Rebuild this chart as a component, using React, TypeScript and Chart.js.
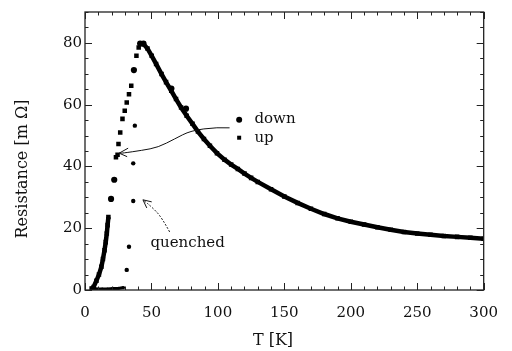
import React, { useEffect, useRef } from 'react';
import { Chart, registerables } from 'chart.js';

Chart.register(...registerables);

// ---- data ----
const upT = [5.0, 6.5, 8.6, 10.5, 12.3, 13.5, 14.7, 15.6, 16.4, 17.0, 17.6,
  23.3, 24.5, 25.2, 26.5, 28.2, 29.9, 31.4, 33.1, 34.8, 38.7, 40.4, 42.6,
  44.1, 47.0, 50.2, 53.5, 57.6, 61.0, 64.9, 68.5, 72.3, 76.5, 80.9, 85.0, 89.5, 94.0, 99.3,
  105, 110, 115, 120, 125, 130, 140, 150, 160, 170, 180, 190, 200, 210, 220, 230, 240,
  250, 260, 270, 280, 290, 300];
const upR = [0.5, 1.0, 3.0, 5.0, 7.5, 10.0, 12.9, 15.5, 18.3, 21.0, 23.6,
  43.0, 43.8, 47.3, 51.0, 55.4, 58.0, 60.7, 63.4, 66.1, 75.8, 78.5, 79.8,
  79.6, 78.2, 75.8, 73.2, 69.9, 67.3, 64.5, 61.8, 59.1, 56.4, 53.8, 51.3, 48.9, 46.7, 44.3,
  42.2, 40.6, 39.2, 37.7, 36.3, 35.0, 32.6, 30.3, 28.2, 26.3, 24.6, 23.2, 22.1, 21.2, 20.3, 19.5, 18.8,
  18.3, 17.9, 17.5, 17.2, 16.9, 16.6];

const downT = [5, 9, 13, 17, 21, 25, 29, 19.6, 22.0, 36.8, 41.5, 44.0, 65.0, 76.0];
const downR = [0.5, 0.3, 0.3, 0.3, 0.5, 0.5, 0.8, 29.5, 35.7, 71.2, 79.8, 79.8, 65.2, 58.7];

const quenchT = [31.4, 33.1, 36.3, 36.3, 37.5];
const quenchR = [6.5, 14.0, 28.8, 41.0, 53.2];

const seriesNames = ['down', 'up', 'quenched'];
const X_TITLE = 'T [K]';
const Y_TITLE = 'Resistance [m Ω]';

// annotation anchors (data units)
const legendDownAt = [116, 55.1];
const legendUpAt = [116, 49.3];
const legendTextT = 127.5;
const arrow1Path = [[108.8, 52.5], [99.3, 52.7], [79.6, 51.6], [67.4, 48.9], [55.1, 46.2], [42.9, 45.2], [28.2, 44.3], [25.7, 44.3]];
const arrow2Path = [[63.7, 18.8], [57.6, 23.6], [50.2, 26.9], [43.6, 29.2]];
const quenchLabelAt = [77.2, 15.2];

const FONT = "'DejaVu Serif', serif";
const INK = '#111';

function pts(xs: number[], ys: number[]) {
  return xs.map((x, i) => ({ x, y: ys[i] }));
}

const overlay = {
  id: 'overlay',
  afterDatasetsDraw(chart: any) {
    const { ctx, chartArea: a } = chart;
    const xs = chart.scales.x;
    const ys = chart.scales.y;
    const X = (v: number) => xs.getPixelForValue(v);
    const Y = (v: number) => ys.getPixelForValue(v);
    ctx.save();
    // frame
    ctx.strokeStyle = '#222';
    ctx.lineWidth = 1.3;
    ctx.strokeRect(a.left, a.top, a.right - a.left, a.bottom - a.top);
    // inward ticks on all four sides
    ctx.lineWidth = 1;
    ctx.beginPath();
    for (let v = 0; v <= 300; v += 10) {
      const px = Math.round(X(v)) + 0.5;
      const len = v % 50 === 0 ? 7 : 3.5;
      ctx.moveTo(px, a.bottom); ctx.lineTo(px, a.bottom - len);
      ctx.moveTo(px, a.top); ctx.lineTo(px, a.top + len);
    }
    for (let v = 0; v <= 90; v += 5) {
      const py = Math.round(Y(v)) + 0.5;
      const len = v % 20 === 0 ? 7 : 3.5;
      ctx.moveTo(a.left, py); ctx.lineTo(a.left + len, py);
      ctx.moveTo(a.right, py); ctx.lineTo(a.right - len, py);
    }
    ctx.stroke();

    // legend
    ctx.fillStyle = '#000';
    ctx.beginPath();
    ctx.arc(X(legendDownAt[0]), Y(legendDownAt[1]), 3, 0, Math.PI * 2);
    ctx.fill();
    ctx.fillRect(X(legendUpAt[0]) - 2, Y(legendUpAt[1]) - 2, 4, 4);
    ctx.fillStyle = INK;
    ctx.font = `15px ${FONT}`;
    ctx.textAlign = 'left';
    ctx.textBaseline = 'alphabetic';
    ctx.fillText(seriesNames[0], X(legendTextT), Y(legendDownAt[1]) + 3);
    ctx.fillText(seriesNames[1], X(legendTextT), Y(legendUpAt[1]) + 4.5);

    // arrow 1 (legend -> curves)
    ctx.strokeStyle = '#111';
    ctx.lineWidth = 1;
    ctx.beginPath();
    const p1 = arrow1Path.map(([t, r]) => [X(t), Y(r)]);
    ctx.moveTo(p1[0][0], p1[0][1]);
    for (let i = 1; i < p1.length - 1; i++) {
      const mx = (p1[i][0] + p1[i + 1][0]) / 2;
      const my = (p1[i][1] + p1[i + 1][1]) / 2;
      ctx.quadraticCurveTo(p1[i][0], p1[i][1], mx, my);
    }
    const tip1 = p1[p1.length - 1];
    ctx.lineTo(tip1[0], tip1[1]);
    ctx.moveTo(tip1[0] + 9, tip1[1] - 5);
    ctx.lineTo(tip1[0], tip1[1]);
    ctx.lineTo(tip1[0] + 8, tip1[1] + 3.5);
    ctx.stroke();

    // arrow 2 (quenched label -> quenched points)
    const p2 = arrow2Path.map(([t, r]) => [X(t), Y(r)]);
    ctx.setLineDash([2, 1.5]);
    ctx.beginPath();
    ctx.moveTo(p2[0][0], p2[0][1]);
    for (let i = 1; i < p2.length - 1; i++) {
      const mx = (p2[i][0] + p2[i + 1][0]) / 2;
      const my = (p2[i][1] + p2[i + 1][1]) / 2;
      ctx.quadraticCurveTo(p2[i][0], p2[i][1], mx, my);
    }
    const tip2 = p2[p2.length - 1];
    ctx.lineTo(tip2[0], tip2[1]);
    ctx.stroke();
    ctx.setLineDash([]);
    const prev = p2[p2.length - 2];
    const ang = Math.atan2(prev[1] - tip2[1], prev[0] - tip2[0]);
    ctx.beginPath();
    for (const d of [-0.45, 0.45]) {
      ctx.moveTo(tip2[0], tip2[1]);
      ctx.lineTo(tip2[0] + 9 * Math.cos(ang + d), tip2[1] + 9 * Math.sin(ang + d));
    }
    ctx.stroke();

    // quenched label
    ctx.fillStyle = INK;
    ctx.font = `15px ${FONT}`;
    ctx.textAlign = 'center';
    ctx.textBaseline = 'middle';
    ctx.fillText(seriesNames[2], X(quenchLabelAt[0]), Y(quenchLabelAt[1]));

    // axis titles
    ctx.font = `16px ${FONT}`;
    ctx.fillText(X_TITLE, 273, 341);
    ctx.save();
    ctx.translate(23, 169);
    ctx.rotate(-Math.PI / 2);
    ctx.fillText(Y_TITLE, 0, 0);
    ctx.restore();
    ctx.restore();
  },
};

export default function App() {
  const ref = useRef<HTMLCanvasElement | null>(null);
  useEffect(() => {
    if (!ref.current) return;
    Chart.defaults.font.family = FONT;
    const chart = new Chart(ref.current, {
      type: 'scatter',
      data: {
        datasets: [
          {
            label: seriesNames[1],
            data: pts(upT, upR),
            showLine: true,
            borderColor: '#000',
            borderWidth: 4.5,
            backgroundColor: '#000',
            pointStyle: 'rect',
            pointRadius: 3.2,
            pointBorderWidth: 0,
            segment: {
              borderColor: (c: any) =>
                c.p0.parsed.x >= 17.5 && c.p1.parsed.x <= 43 ? 'rgba(0,0,0,0)' : '#000',
            },
          },
          {
            label: seriesNames[0],
            data: pts(downT, downR),
            showLine: true,
            borderColor: '#000',
            borderWidth: 3,
            backgroundColor: '#000',
            pointStyle: 'circle',
            pointRadius: (c: any) => (c.raw && c.raw.y < 2 ? 1.6 : 3.1),
            pointBorderWidth: 0,
            segment: {
              borderColor: (c: any) =>
                c.p0.parsed.y < 2 && c.p1.parsed.y < 2 ? '#000' : 'rgba(0,0,0,0)',
            },
          },
          {
            label: seriesNames[2],
            data: pts(quenchT, quenchR),
            showLine: false,
            backgroundColor: '#000',
            pointStyle: 'circle',
            pointRadius: 2.2,
            pointBorderWidth: 0,
          },
        ],
      },
      options: {
        animation: false,
        responsive: true,
        maintainAspectRatio: false,
        layout: { padding: { top: 11, right: 19, left: 0, bottom: 0 } },
        plugins: { legend: { display: false }, tooltip: { enabled: false } },
        scales: {
          x: {
            type: 'linear',
            min: 0,
            max: 300,
            grid: { display: false, drawTicks: false },
            border: { display: false },
            ticks: { stepSize: 50, padding: 14, color: INK, font: { size: 15, family: FONT } },
            afterFit: (s: any) => { s.height = 61; },
          },
          y: {
            type: 'linear',
            min: 0,
            max: 90,
            grid: { display: false, drawTicks: false },
            border: { display: false },
            ticks: { stepSize: 20, padding: 3, color: INK, font: { size: 15, family: FONT } },
            afterBuildTicks: (s: any) => { s.ticks = s.ticks.filter((t: any) => t.value % 20 === 0); },
            afterFit: (s: any) => { s.width = 85; },
          },
        },
      },
      plugins: [overlay],
    });
    return () => chart.destroy();
  }, []);
  return (
    <div style={{ position: 'fixed', left: 0, top: 0, width: 512, height: 351, background: '#fff' }}>
      <canvas ref={ref} />
    </div>
  );
}
